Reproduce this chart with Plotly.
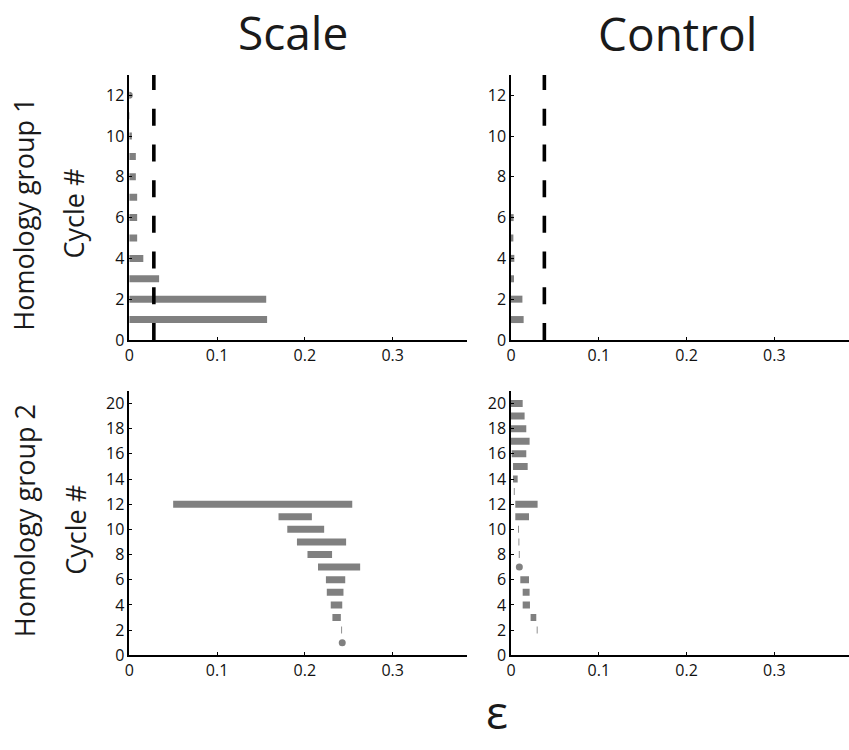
import plotly.graph_objects as go

# Persistence intervals: cycle number, birth and death of each cycle
scale_h1_cycle = [1, 2, 3, 4, 5, 6, 7, 8, 9, 10, 11, 12]
scale_h1_birth = [0, 0, 0, 0, 0, 0, 0, 0, 0, 0, 0, 0]
scale_h1_death = [0.157, 0.156, 0.034, 0.016, 0.009, 0.009, 0.009, 0.0075, 0.0075, 0.003, 0.0005, 0]

control_h1_cycle = [1, 2, 3, 4, 5, 6]
control_h1_birth = [0, 0, 0, 0, 0, 0]
control_h1_death = [0.0144, 0.013, 0.0034, 0.0038, 0.0027, 0.003]

scale_h2_cycle = [1, 2, 3, 4, 5, 6, 7, 8, 9, 10, 11, 12]
scale_h2_birth = [0.2426, 0.2414, 0.2314, 0.2295, 0.225, 0.224, 0.215, 0.203, 0.191, 0.180, 0.170, 0.050]
scale_h2_death = [0.2426, 0.2424, 0.241, 0.2426, 0.244, 0.246, 0.263, 0.231, 0.247, 0.222, 0.208, 0.254]

control_h2_cycle = [2, 3, 4, 5, 6, 7, 8, 9, 10, 11, 12, 13, 14, 15, 16, 17, 18, 19, 20]
control_h2_birth = [0.0293, 0.0223, 0.0133, 0.0133, 0.0106, 0.0095, 0.0089, 0.0085, 0.0081, 0.0049,
                    0.0049, 0.0032, 0.0023, 0.0023, 0.0008, 0, 0, 0, 0]
control_h2_death = [0.0303, 0.0288, 0.0216, 0.0212, 0.0205, 0.0095, 0.0099, 0.0095, 0.0091, 0.0205,
                    0.0303, 0.0042, 0.0076, 0.019, 0.0174, 0.0212, 0.0174, 0.0155, 0.0133]

# Significance thresholds (dashed lines) for homology group 1
scale_h1_threshold = 0.028
control_h1_threshold = 0.038

x_ticks = [0, 0.1, 0.2, 0.3]
x_tick_text = ["0", "0.1", "0.2", "0.3"]
y_ticks_h1 = [0, 2, 4, 6, 8, 10, 12]
y_ticks_h2 = [0, 2, 4, 6, 8, 10, 12, 14, 16, 18, 20]

BAR = "rgb(128,128,128)"
FONT = "Open Sans"

fig = go.Figure()

panels = [
    (scale_h1_cycle, scale_h1_birth, scale_h1_death, "x", "y"),
    (control_h1_cycle, control_h1_birth, control_h1_death, "x2", "y2"),
    (scale_h2_cycle, scale_h2_birth, scale_h2_death, "x3", "y3"),
    (control_h2_cycle, control_h2_birth, control_h2_death, "x4", "y4"),
]

for cycles, births, deaths, xa, ya in panels:
    lx, ly, dx, dy = [], [], [], []
    for cyc, b, d in zip(cycles, births, deaths):
        if d - b <= 0:
            dx.append(b)
            dy.append(cyc)
        else:
            lx += [b, d, None]
            ly += [cyc, cyc, None]
    fig.add_trace(go.Scatter(x=lx, y=ly, mode="lines", xaxis=xa, yaxis=ya,
                             line=dict(color=BAR, width=7), hoverinfo="skip",
                             showlegend=False))
    if dx:
        fig.add_trace(go.Scatter(x=dx, y=dy, mode="markers", xaxis=xa, yaxis=ya,
                                 marker=dict(color=BAR, size=7, line=dict(width=0)),
                                 hoverinfo="skip", showlegend=False))

# dashed threshold lines, drawn upward from zero
for thr, xa, ya, top in [(scale_h1_threshold, "x", "y", 13),
                         (control_h1_threshold, "x2", "y2", 13)]:
    fig.add_trace(go.Scatter(x=[thr, thr], y=[0, top], mode="lines", xaxis=xa, yaxis=ya,
                             line=dict(color="black", width=3.6, dash="17px,18.7px"),
                             hoverinfo="skip", showlegend=False))

W, H = 849, 750
xl = [125 / W, 465 / W]
xr = [509 / W, 1.0]
yt = [(H - 345) / H, (H - 76) / H]
yb = [(H - 665) / H, (H - 396.7) / H]

xcommon = dict(range=[0, 0.385], tickvals=x_ticks, ticktext=x_tick_text,
               showline=True, linecolor="black", linewidth=1.5, ticks="inside",
               ticklen=3, tickcolor="black", tickwidth=1, showgrid=False, zeroline=False,
               tickfont=dict(family=FONT, size=16, color="#111"), fixedrange=True)
ycommon = dict(showline=True, linecolor="black", linewidth=1.5, ticks="inside",
               ticklen=3, tickcolor="black", tickwidth=1, showgrid=False, zeroline=False,
               tickfont=dict(family=FONT, size=16, color="#111"), fixedrange=True)

fig.update_layout(
    width=W, height=H,
    margin=dict(l=0, r=0, t=0, b=0),
    paper_bgcolor="white", plot_bgcolor="white",
    xaxis=dict(domain=xl, anchor="y", **xcommon),
    xaxis2=dict(domain=xr, anchor="y2", **xcommon),
    xaxis3=dict(domain=xl, anchor="y3", **xcommon),
    xaxis4=dict(domain=xr, anchor="y4", **xcommon),
    yaxis=dict(domain=yt, anchor="x", range=[0, 13], tickvals=y_ticks_h1, **ycommon),
    yaxis2=dict(domain=yt, anchor="x2", range=[0, 13], tickvals=y_ticks_h1, **ycommon),
    yaxis3=dict(domain=yb, anchor="x3", range=[0, 21], tickvals=y_ticks_h2, **ycommon),
    yaxis4=dict(domain=yb, anchor="x4", range=[0, 21], tickvals=y_ticks_h2, **ycommon),
)

def label(text, x, y, size, angle=0):
    fig.add_annotation(text=text, x=x / W, y=1 - y / H, xref="paper", yref="paper",
                       showarrow=False, textangle=angle, xanchor="center", yanchor="middle",
                       borderpad=0, font=dict(family=FONT, size=size, color="#1a1a1a"))

label("Scale", 290, 32, 46)
label("Control", 676, 33, 46)
label("Homology group 1", 19, 217, 27, -90)
label("Cycle #", 69, 217, 27, -90)
label("Homology group 2", 19, 528, 27, -90)
label("Cycle #", 71, 538, 27, -90)
label("ε", 495, 722, 46)

fig.write_html("out.html")
